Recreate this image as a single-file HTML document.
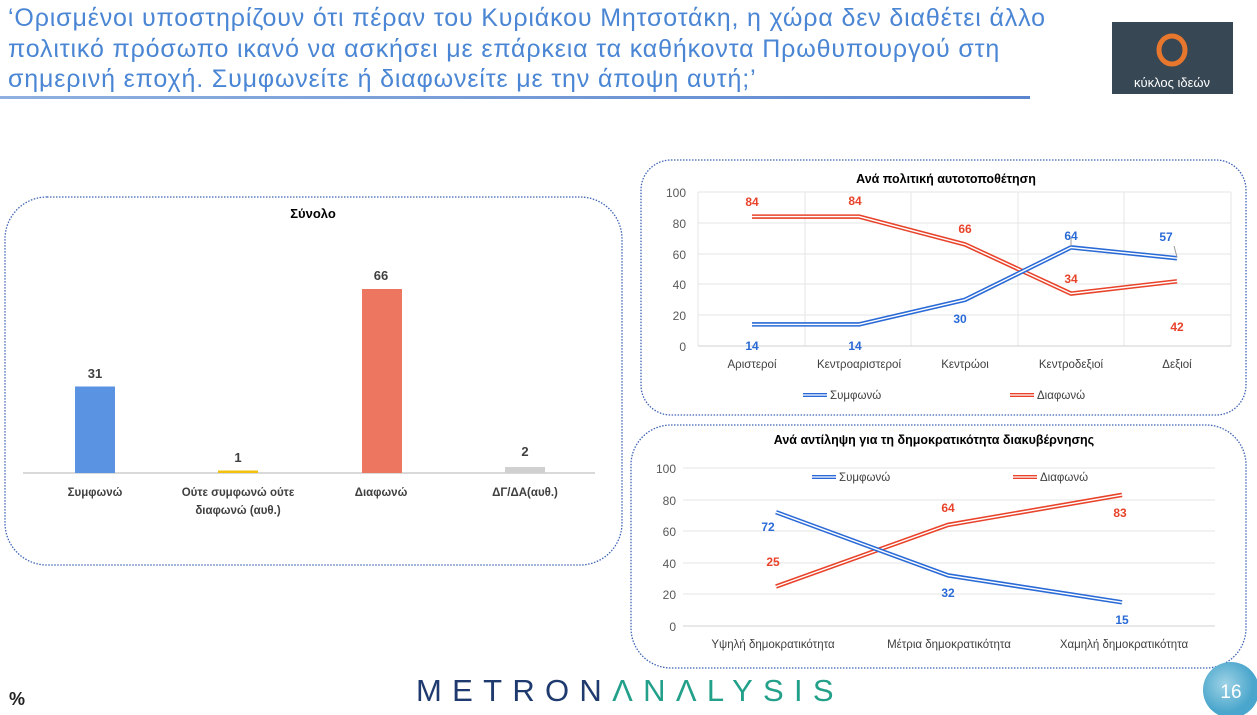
<!DOCTYPE html>
<html><head><meta charset="utf-8"><style>
html,body{margin:0;padding:0;width:1257px;height:715px;overflow:hidden;background:#fff;font-family:"Liberation Sans","DejaVu Sans",sans-serif;}
.hdr{position:absolute;left:8px;top:3px;font-size:25px;line-height:30.5px;color:#4a86d4;font-family:"Liberation Sans",sans-serif;letter-spacing:0.85px;white-space:nowrap;}
</style></head><body>
<div class="hdr">‘Ορισμένοι υποστηρίζουν ότι πέραν του Κυριάκου Μητσοτάκη, η χώρα δεν διαθέτει άλλο<br>πολιτικό πρόσωπο ικανό να ασκήσει με επάρκεια τα καθήκοντα Πρωθυπουργού στη<br>σημερινή εποχή. Συμφωνείτε ή διαφωνείτε με την άποψη αυτή;’</div>
<svg width="1257" height="715" style="position:absolute;left:0;top:0" font-family="Liberation Sans, DejaVu Sans, sans-serif">
<defs><linearGradient id="ul" x1="0" x2="1"><stop offset="0" stop-color="#8fb0e0"/><stop offset="1" stop-color="#5b85cf"/></linearGradient>
<radialGradient id="pg" cx="0.4" cy="0.4"><stop offset="0" stop-color="#9fd3e6"/><stop offset="1" stop-color="#4aa6cc"/></radialGradient></defs>
<rect x="0" y="96" width="1030" height="3" fill="url(#ul)"/>
<rect x="1112" y="22" width="121" height="72" fill="#374754"/>
<ellipse cx="1172" cy="50" rx="13" ry="14" fill="none" stroke="#e8772e" stroke-width="5"/>
<text x="1172" y="87" font-size="13" fill="#fff" text-anchor="middle">κύκλος ιδεών</text>

<rect x="5" y="197" width="617" height="368" rx="42" fill="none" stroke="#3f64b5" stroke-width="1.3" stroke-dasharray="1.5,1.5"/>
<text x="313" y="218" font-size="13" font-weight="bold" text-anchor="middle">Σύνολο</text>
<line x1="23" y1="473" x2="595" y2="473" stroke="#d9d9d9" stroke-width="2"/>
<rect x="75" y="386.5" width="40" height="86.5" fill="#5b93e3"/>
<rect x="218" y="470.5" width="40" height="2.5" fill="#f2c10f"/>
<rect x="362" y="289" width="40" height="184" fill="#ed7661"/>
<rect x="505" y="467" width="40" height="6" fill="#d0d0d0"/>
<g font-size="13" font-weight="bold" fill="#404040" text-anchor="middle">
<text x="95" y="378">31</text><text x="238" y="462">1</text><text x="381" y="280">66</text><text x="525" y="456">2</text></g>
<g font-size="11.5" font-weight="bold" fill="#404040" text-anchor="middle">
<text x="95" y="496">Συμφωνώ</text><text x="238" y="496">Ούτε συμφωνώ ούτε</text><text x="238" y="514">διαφωνώ (αυθ.)</text>
<text x="381" y="496">Διαφωνώ</text><text x="525" y="496">ΔΓ/ΔΑ(αυθ.)</text></g>

<rect x="641" y="160" width="605" height="255" rx="30" fill="none" stroke="#3f64b5" stroke-width="1.3" stroke-dasharray="1.5,1.5"/>
<text x="946" y="183" font-size="12.5" font-weight="bold" text-anchor="middle">Ανά πολιτική αυτοτοποθέτηση</text>
<g stroke="#e6e6e6" stroke-width="1">
<line x1="698" y1="192" x2="1231" y2="192"/><line x1="698" y1="223" x2="1231" y2="223"/><line x1="698" y1="254" x2="1231" y2="254"/><line x1="698" y1="284" x2="1231" y2="284"/><line x1="698" y1="315" x2="1231" y2="315"/>
<line x1="698" y1="192" x2="698" y2="346"/><line x1="805" y1="192" x2="805" y2="346"/><line x1="911" y1="192" x2="911" y2="346"/><line x1="1018" y1="192" x2="1018" y2="346"/><line x1="1124" y1="192" x2="1124" y2="346"/><line x1="1231" y1="192" x2="1231" y2="346"/></g>
<line x1="698" y1="346" x2="1231" y2="346" stroke="#d0d0d0"/>
<g font-size="12" fill="#595959" text-anchor="end"><text x="686" y="197">100</text><text x="686" y="228">80</text><text x="686" y="259">60</text><text x="686" y="289">40</text><text x="686" y="320">20</text><text x="686" y="351">0</text></g>
<g font-size="11.5" fill="#404040" text-anchor="middle"><text x="752" y="368">Αριστεροί</text><text x="859" y="368">Κεντροαριστεροί</text><text x="965" y="368">Κεντρώοι</text><text x="1071" y="368">Κεντροδεξιοί</text><text x="1177" y="368">Δεξιοί</text></g>
<g fill="none" stroke-linejoin="round">
<polyline points="752,216.6 859,216.6 965,244.4 1071,293.6 1177,281.3" stroke="#e8432a" stroke-width="4.5"/>
<polyline points="752,216.6 859,216.6 965,244.4 1071,293.6 1177,281.3" stroke="#fff" stroke-width="1.4"/>
<polyline points="752,324.4 859,324.4 965,299.8 1071,247.4 1177,258.2" stroke="#2a6ad6" stroke-width="4.5"/>
<polyline points="752,324.4 859,324.4 965,299.8 1071,247.4 1177,258.2" stroke="#fff" stroke-width="1.4"/></g>
<line x1="1071" y1="246" x2="1071" y2="238" stroke="#999"/><line x1="1177" y1="257" x2="1174" y2="246" stroke="#999"/>
<g font-size="12" font-weight="bold" text-anchor="middle">
<g fill="#e8432a"><text x="752" y="206">84</text><text x="855" y="205">84</text><text x="965" y="233">66</text><text x="1071" y="283">34</text><text x="1177" y="331">42</text></g>
<g fill="#2a6ad6"><text x="752" y="350">14</text><text x="855" y="350">14</text><text x="960" y="323">30</text><text x="1071" y="240">64</text><text x="1166" y="241">57</text></g></g>
<g stroke-width="4"><line x1="803" y1="395" x2="827" y2="395" stroke="#2a6ad6"/><line x1="1010" y1="395" x2="1034" y2="395" stroke="#e8432a"/></g>
<g stroke-width="1.2" stroke="#fff"><line x1="803" y1="395" x2="827" y2="395"/><line x1="1010" y1="395" x2="1034" y2="395"/></g>
<g font-size="11.5" fill="#404040"><text x="830" y="399">Συμφωνώ</text><text x="1037" y="399">Διαφωνώ</text></g>

<rect x="631" y="425" width="615" height="243" rx="40" fill="none" stroke="#3f64b5" stroke-width="1.3" stroke-dasharray="1.5,1.5"/>
<text x="934" y="444" font-size="12.5" font-weight="bold" text-anchor="middle">Ανά αντίληψη για τη δημοκρατικότητα διακυβέρνησης</text>
<g stroke="#e6e6e6"><line x1="683" y1="468" x2="1215" y2="468"/><line x1="683" y1="500" x2="1215" y2="500"/><line x1="683" y1="531" x2="1215" y2="531"/><line x1="683" y1="563" x2="1215" y2="563"/><line x1="683" y1="594" x2="1215" y2="594"/></g>
<line x1="683" y1="626" x2="1215" y2="626" stroke="#d0d0d0"/>
<g font-size="12" fill="#595959" text-anchor="end"><text x="676" y="473">100</text><text x="676" y="505">80</text><text x="676" y="536">60</text><text x="676" y="568">40</text><text x="676" y="599">20</text><text x="676" y="631">0</text></g>
<g font-size="11.5" fill="#404040" text-anchor="middle"><text x="773" y="648">Υψηλή δημοκρατικότητα</text><text x="949" y="648">Μέτρια δημοκρατικότητα</text><text x="1124" y="648">Χαμηλή δημοκρατικότητα</text></g>
<g fill="none" stroke-linejoin="round">
<polyline points="776,586.5 948,524.9 1122,494.9" stroke="#e8432a" stroke-width="4.5"/>
<polyline points="776,586.5 948,524.9 1122,494.9" stroke="#fff" stroke-width="1.4"/>
<polyline points="776,512.2 948,575.4 1122,602.3" stroke="#2a6ad6" stroke-width="4.5"/>
<polyline points="776,512.2 948,575.4 1122,602.3" stroke="#fff" stroke-width="1.4"/></g>
<g font-size="12" font-weight="bold" text-anchor="middle">
<g fill="#e8432a"><text x="773" y="566">25</text><text x="948" y="512">64</text><text x="1120" y="517">83</text></g>
<g fill="#2a6ad6"><text x="768" y="531">72</text><text x="948" y="597">32</text><text x="1122" y="624">15</text></g></g>
<g stroke-width="4"><line x1="812" y1="477" x2="836" y2="477" stroke="#2a6ad6"/><line x1="1013" y1="477" x2="1037" y2="477" stroke="#e8432a"/></g>
<g stroke-width="1.2" stroke="#fff"><line x1="812" y1="477" x2="836" y2="477"/><line x1="1013" y1="477" x2="1037" y2="477"/></g>
<g font-size="11.5" fill="#404040"><text x="839" y="481">Συμφωνώ</text><text x="1040" y="481">Διαφωνώ</text></g>

<text x="9" y="705" font-size="18" font-weight="bold" fill="#222">%</text>
<text x="416" y="701" font-size="31" letter-spacing="10.3" fill="#1e3a6e">METRON<tspan fill="#23a08a">ΛNΛLYSIS</tspan></text>
<circle cx="1231" cy="690" r="28" fill="url(#pg)"/>
<text x="1231" y="698" font-size="19" fill="#fff" text-anchor="middle">16</text>
</svg>
</body></html>
